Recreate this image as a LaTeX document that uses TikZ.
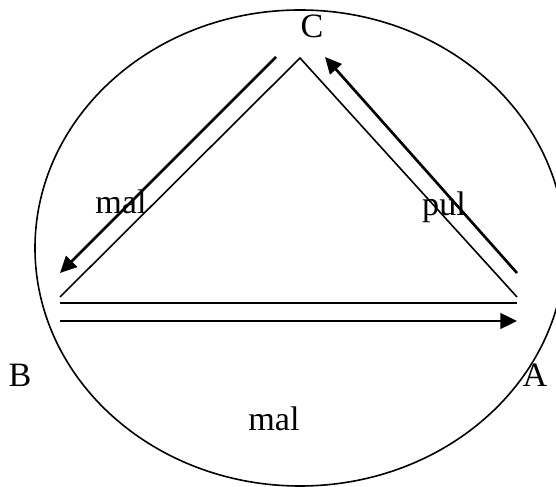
\documentclass[tikz,border=0pt]{standalone}
\usepackage{fontspec}
\setmainfont{Liberation Serif}
\usetikzlibrary{arrows.meta}

\begin{document}
\begin{tikzpicture}[
  x=0.375pt,y=-0.375pt,
  thinline/.style={line width=0.6pt},
  arr/.style={-{Triangle[length=6.2pt,width=5.8pt]},line width=1pt},
  lbl/.style={font=\fontsize{12.8}{15}\selectfont,anchor=base,inner sep=0pt},
]
\useasboundingbox (0,0) rectangle (556,487);

% Outer ellipse
\begin{scope}
  \clip (0,0) rectangle (556,487);
  \draw[thinline] (300,248) ellipse [x radius=265, y radius=238];
\end{scope}

% Corners of the triangle
\coordinate (cTop) at (300,58);
\coordinate (bLeft) at (60,297);
\coordinate (aRight) at (517,297);
\coordinate (baseL) at (60,303);
\coordinate (baseR) at (517,303);

% Triangle sides
\draw[thinline] (bLeft) -- (cTop) -- (aRight);
\draw[thinline] (baseL) -- (baseR);

% Arrow ends
\coordinate (malStart) at (276,57);
\coordinate (malEnd) at (60,273);
\coordinate (pulStart) at (517,273);
\coordinate (pulEnd) at (325,57);
\coordinate (botStart) at (60,321);
\coordinate (botEnd) at (517,321);

% Arrows
\draw[arr] (malStart) -- (malEnd);
\draw[arr] (pulStart) -- (pulEnd);
\draw[arr] (botStart) -- (botEnd);

% Corner labels
\node[lbl] (lblC) at (312,38) {C};
\node[lbl] (lblB) at (20,387) {B};
\node[lbl] (lblA) at (535,387) {A};

% Edge labels
\node[lbl] (lblMalLeft) at (121,214) {mal};
\node[lbl] (lblPul) at (444,216) {pul};
\node[lbl] (lblMalBot) at (274,430) {mal};

\end{tikzpicture}
\end{document}
